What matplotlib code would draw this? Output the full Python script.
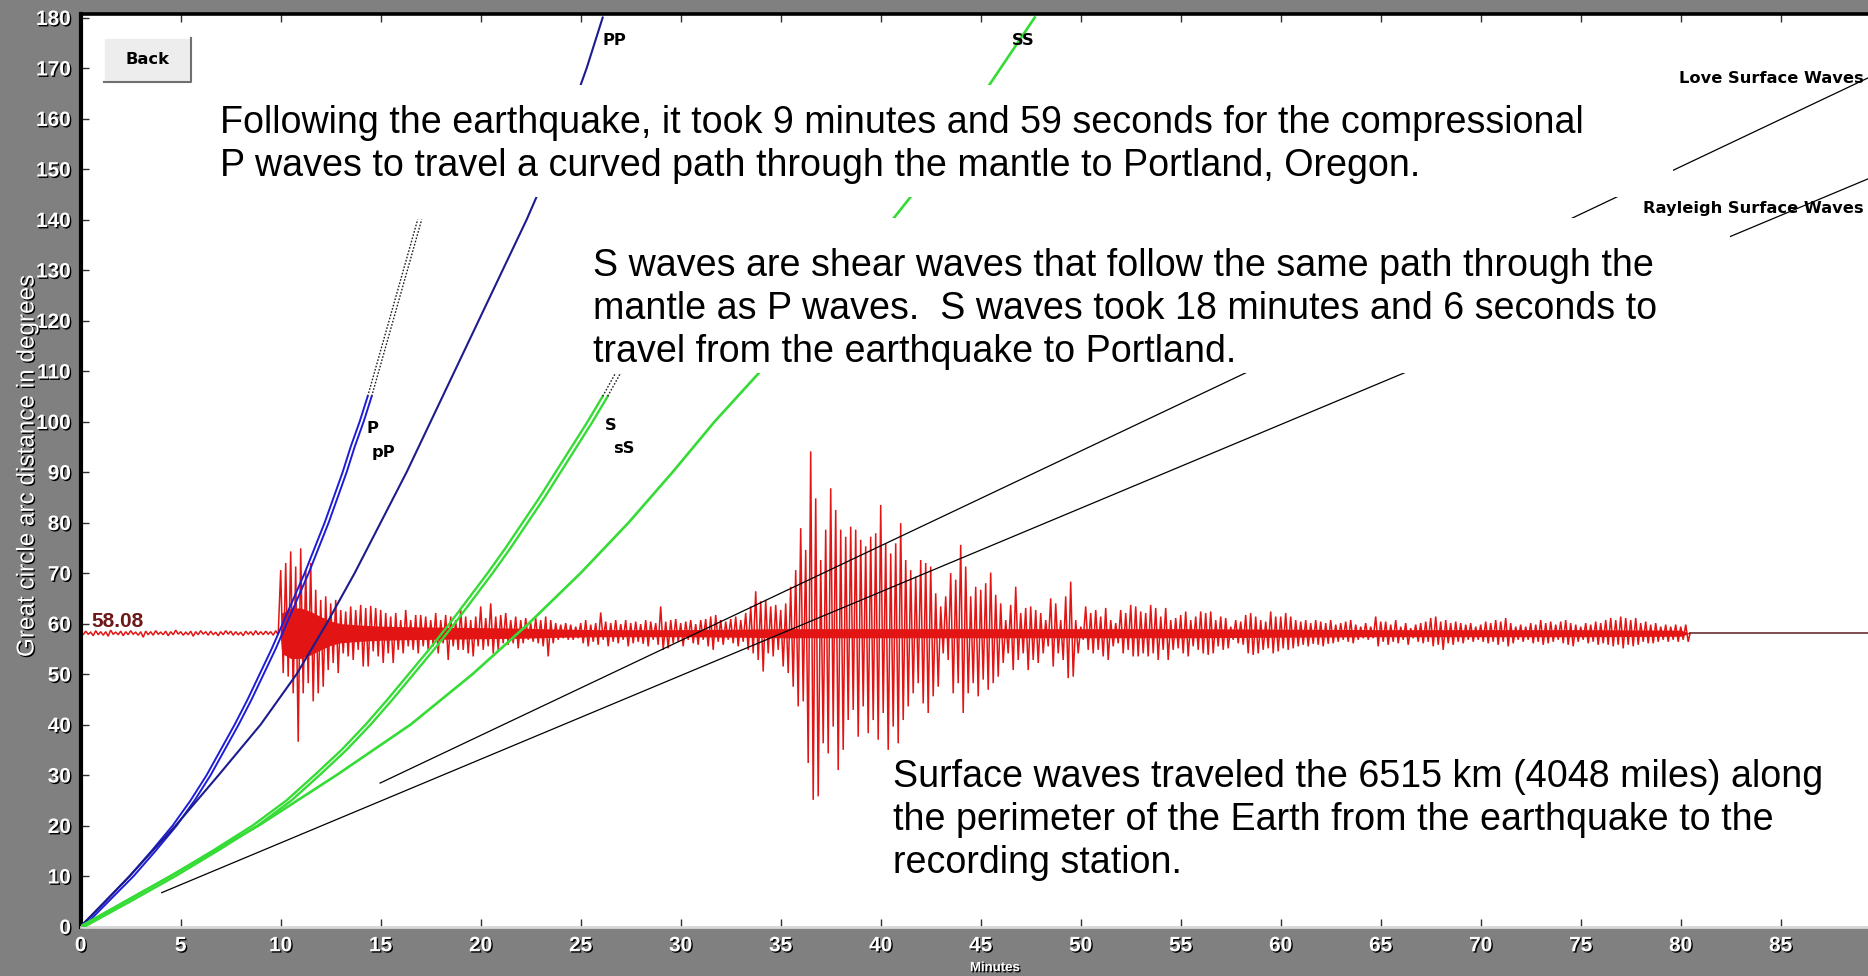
import numpy as np
import matplotlib
matplotlib.use("Agg")
import matplotlib.pyplot as plt
import matplotlib.patheffects as pe
from matplotlib.patches import Rectangle
from matplotlib.lines import Line2D

# ---------------- data ----------------
# travel-time curves: distance (deg) vs time (minutes)
p_deg = [0, 5, 10, 15, 20, 25, 30, 35, 40, 45, 50, 55, 60, 65, 70, 75, 80, 85, 90, 95, 100, 105]
p_min = [0, 1.25, 2.45, 3.55, 4.6, 5.5, 6.3, 7.0, 7.7, 8.35, 8.95, 9.55, 10.1, 10.65, 11.2, 11.7,
         12.2, 12.65, 13.1, 13.5, 13.95, 14.35]
pP_min = [0.15, 1.4, 2.65, 3.75, 4.8, 5.7, 6.5, 7.2, 7.9, 8.55, 9.15, 9.75, 10.3, 10.85, 11.4, 11.9,
          12.4, 12.85, 13.3, 13.7, 14.15, 14.55]
pdiff_deg = [105, 140]
pdiff_min = [14.35, 16.85]
pPdiff_min = [14.55, 17.05]

pp_deg = [0, 10, 20, 30, 40, 50, 60, 70, 80, 90, 100, 110, 120, 130, 140, 150, 160, 170, 180]
pp_min = [0, 2.45, 4.75, 6.9, 9.0, 10.8, 12.3, 13.7, 15.0, 16.3, 17.5, 18.7, 19.9, 21.1, 22.3,
          23.4, 24.4, 25.3, 26.1]

s_deg = [0, 5, 10, 15, 20, 25, 30, 35, 40, 45, 50, 55, 60, 65, 70, 75, 80, 85, 90, 95, 100, 105]
s_min = [0, 2.25, 4.5, 6.6, 8.6, 10.3, 11.7, 13.05, 14.25, 15.35, 16.4, 17.45, 18.45, 19.4, 20.35,
         21.25, 22.1, 22.95, 23.75, 24.55, 25.35, 26.1]
sS_min = [0.2, 2.5, 4.75, 6.85, 8.85, 10.55, 11.95, 13.3, 14.5, 15.6, 16.65, 17.7, 18.7, 19.65, 20.6,
          21.5, 22.35, 23.2, 24.0, 24.8, 25.6, 26.35]
sdiff_deg = [105, 110]
sdiff_min = [26.1, 26.8]
sSdiff_min = [26.35, 27.05]

ss_deg = [0, 10, 20, 30, 40, 50, 60, 70, 80, 90, 100, 110, 120, 130, 140, 150, 160, 170, 180]
ss_min = [0, 4.5, 8.9, 12.8, 16.5, 19.6, 22.4, 25.0, 27.4, 29.6, 31.7, 34.0, 36.2, 38.4, 40.6,
          42.6, 44.3, 46.0, 47.7]

love_min = [14.97, 89.4]
love_deg = [28.4, 168.1]
rayleigh_min = [4.05, 89.4]
rayleigh_deg = [6.7, 148.1]

# seismogram recorded at the station (distance 58.08 deg)
station_deg = 58.08
trace_step = 0.25          # minutes between successive upward peaks
trace_end = 80.47
# upward / downward peak excursions (deg) every 0.25 min, starting at 0 min
seis_up_pre = [0.3, 0.4, 0.2, 0.5, 0.3, 0.3, 0.6, 0.2, 0.4, 0.3, 0.5, 0.2, 0.3, 0.4, 0.3, 0.5, 0.2, 0.4,
               0.3, 0.6, 0.3, 0.2, 0.4, 0.3, 0.5, 0.3, 0.4, 0.2, 0.3, 0.5, 0.4, 0.3, 0.2, 0.4, 0.3, 0.5,
               0.3, 0.4, 0.3, 0.5]
seis_dn_pre = [0.3, 0.2, 0.5, 0.3, 0.4, 0.6, 0.2, 0.3, 0.5, 0.3, 0.2, 0.4, 0.8, 0.3, 0.4, 0.2, 0.3, 0.5,
               0.3, 0.2, 0.4, 0.3, 0.6, 0.3, 0.2, 0.4, 0.3, 0.5, 0.3, 0.2, 0.4, 0.3, 0.5, 0.2, 0.4, 0.3,
               0.3, 0.2, 0.4, 0.3]
seis_up_body = [12.5, 13.9, 16.2, 13.2, 16.8, 12.5, 13.9, 8.6, 6.6, 7.3, 5.9, 6.6,
                4.6, 4.3, 5.3, 4.6, 5.6, 5.0, 5.4, 5.0, 4.6, 4.0, 3.3, 4.0,
                2.6, 4.6, 2.6, 3.6, 3.6, 3.3, 2.6, 4.0, 2.6, 3.6, 3.3, 2.6,
                4.6, 3.3, 2.6, 3.3, 5.3, 3.0, 5.9, 3.3, 3.6, 4.0, 2.6, 3.3,
                2.6, 3.0, 2.0, 3.0, 2.6, 3.3, 2.6, 2.0, 1.7, 2.0, 1.7, 1.3]
seis_dn_body = [7.9, 8.6, 11.9, 21.5, 11.9, 9.9, 13.5, 11.9, 10.6, 7.3, 5.9, 7.9,
                4.0, 4.6, 5.3, 3.3, 6.6, 6.6, 3.6, 4.6, 5.9, 4.0, 5.9, 3.3,
                4.0, 2.6, 3.3, 4.0, 2.6, 3.3, 2.6, 4.0, 2.0, 5.3, 2.6, 3.3,
                3.3, 4.0, 4.6, 2.6, 3.3, 2.6, 4.0, 3.3, 2.0, 2.3, 2.0, 3.0,
                2.0, 1.3, 1.7, 2.0, 2.6, 4.6, 2.0, 1.3, 1.0, 1.3, 1.3, 1.0]
seis_up_surf = [2.0, 2.6, 1.7, 2.0, 4.1, 2.3, 2.0, 2.6, 1.8, 2.6, 2.0, 2.3,
                1.8, 2.6, 2.3, 2.0, 5.3, 2.3, 2.6, 2.8, 2.0, 2.3, 2.6, 1.8,
                2.6, 2.8, 3.3, 3.6, 2.6, 2.3, 2.8, 3.3, 2.6, 4.0, 5.3, 8.3,
                6.3, 6.6, 5.3, 5.6, 4.6, 5.9, 9.2, 12.5, 20.8, 16.5, 36.0, 26.7,
                14.5, 20.5, 28.7, 24.4, 20.5, 19.1, 21.1, 20.5, 18.5, 17.2, 19.1, 19.8,
                25.4, 17.8, 15.8, 17.8, 21.8, 14.5, 12.5, 11.2, 14.5, 13.9, 13.2, 7.9,
                5.3, 7.3, 11.9, 10.6, 17.5, 13.2, 7.3, 9.2, 8.6, 9.9]
seis_dn_surf = [2.0, 2.6, 1.7, 2.3, 1.3, 2.6, 1.7, 2.0, 1.3, 2.6, 2.0, 1.7,
                2.1, 2.6, 1.3, 2.3, 3.3, 3.0, 2.0, 1.7, 2.6, 1.3, 2.0, 2.3,
                1.3, 2.6, 3.3, 1.7, 2.3, 1.3, 2.0, 2.6, 1.7, 3.3, 4.0, 5.3,
                7.6, 4.0, 4.6, 3.3, 6.6, 7.9, 10.6, 14.5, 13.5, 25.7, 33.0, 32.3,
                21.8, 23.8, 18.5, 27.1, 23.1, 17.2, 15.2, 20.5, 14.5, 19.8, 17.2, 21.1,
                15.8, 23.1, 18.5, 21.8, 17.2, 14.5, 11.9, 9.9, 13.9, 15.8, 12.5, 10.6,
                4.0, 5.3, 11.9, 9.9, 15.8, 11.9, 9.9, 12.5, 9.2, 11.2]
seis_up_coda = [12.0, 7.6, 5.9, 2.6, 5.6, 9.2, 4.0, 5.0, 5.3, 4.6,
                4.0, 2.6, 6.9, 5.9, 2.6, 7.3, 10.2, 2.6, 1.3, 5.3, 4.0, 4.6,
                3.3, 5.0, 2.6, 2.0, 4.6, 4.0, 5.6, 5.3, 4.3, 4.0, 5.6, 5.0,
                3.3, 5.0, 2.6, 3.0, 3.6, 4.3, 2.6, 3.3, 4.3, 4.0, 4.3, 2.6,
                3.3, 3.0, 1.3, 2.6, 2.3, 3.6, 4.0, 3.3, 2.6, 2.3, 4.3, 3.3,
                3.3, 4.0, 3.3, 2.6, 2.3, 2.6, 2.0, 2.6, 2.3, 2.0, 2.6, 1.7,
                2.0, 2.3, 2.6, 1.7, 1.3, 2.0, 1.3, 3.3, 2.3]
seis_dn_coda = [9.9, 8.6, 5.9, 4.0, 7.3, 5.3, 4.0, 7.3, 5.3, 5.9,
                4.0, 2.6, 6.6, 4.0, 5.3, 8.9, 8.6, 4.0, 1.3, 3.3, 4.0, 3.3,
                4.6, 5.3, 2.6, 2.0, 4.0, 3.3, 4.6, 4.6, 4.0, 4.6, 4.0, 5.3,
                3.3, 5.3, 3.3, 3.0, 4.0, 4.6, 2.6, 3.3, 4.0, 4.3, 4.0, 2.6,
                3.3, 3.0, 1.3, 2.0, 2.3, 4.0, 4.3, 4.0, 3.3, 3.0, 4.0, 3.6,
                3.0, 3.3, 3.0, 2.6, 2.3, 2.6, 2.1, 2.3, 2.6, 2.1, 2.0, 1.7,
                1.3, 1.7, 2.0, 1.3, 1.0, 1.3, 1.0, 2.6, 1.7]
seis_up_tail = [2.3, 1.7, 2.6, 1.3, 2.0, 1.0, 1.7, 2.0, 2.3, 3.0, 3.3,
                2.3, 2.6, 2.0, 2.3, 2.0, 1.7, 2.0, 1.3, 1.7, 2.3, 2.0, 2.6,
                2.3, 3.0, 2.0, 1.3, 1.7, 1.3, 2.0, 1.7, 2.6, 2.0, 2.3, 1.7,
                2.3, 2.6, 2.0, 1.7, 1.3, 2.0, 1.7, 2.3, 2.0, 2.6, 3.0, 2.6,
                3.3, 3.0, 2.6, 3.0, 2.0, 2.3, 1.7, 2.0, 1.3, 1.7, 1.3, 1.7,
                1.3, 1.7]
seis_dn_tail = [2.3, 1.7, 2.0, 1.3, 2.3, 1.0, 1.7, 2.0, 1.7, 2.6, 2.3,
                3.3, 2.0, 2.3, 1.7, 2.0, 1.3, 1.7, 1.3, 1.7, 2.0, 1.7, 2.3,
                1.7, 2.6, 2.0, 1.3, 1.7, 1.3, 2.0, 1.7, 2.3, 2.0, 1.7, 1.3,
                2.0, 2.3, 2.6, 1.7, 1.3, 2.0, 1.7, 2.3, 2.0, 2.3, 2.6, 2.3,
                3.0, 2.3, 2.6, 2.3, 1.7, 2.0, 2.0, 1.7, 1.3, 1.7, 1.3, 1.7,
                1.3, 1.7]
# half-width (deg) of the solid red core of the trace
seis_core_min = [9.97, 10.05, 10.5, 11.0, 11.5, 12.0, 12.5, 13.0, 14.0, 15.0, 16.0, 18.0, 20.0, 22.0,
                 24.0, 26.0, 30.0, 33.0, 35.0, 40.0, 45.0, 50.0, 55.0, 60.0, 65.0, 70.0, 75.0, 80.0,
                 80.47]
seis_core_half = [0.0, 4.0, 5.0, 5.0, 4.3, 3.3, 2.4, 1.9, 1.6, 1.4, 1.3, 1.2, 1.1, 1.0,
                  0.8, 0.7, 0.7, 0.8, 0.9, 0.9, 0.9, 0.9, 0.9, 0.8, 0.7, 0.7, 0.7, 0.6,
                  0.0]

x_ticks = list(range(0, 90, 5))
y_ticks = list(range(0, 181, 10))

text_p = ["Following the earthquake, it took 9 minutes and 59 seconds for the compressional",
          "P waves to travel a curved path through the mantle to Portland, Oregon."]
text_s = ["S waves are shear waves that follow the same path through the",
          "mantle as P waves.  S waves took 18 minutes and 6 seconds to",
          "travel from the earthquake to Portland."]
text_surf = ["Surface waves traveled the 6515 km (4048 miles) along",
             "the perimeter of the Earth from the earthquake to the",
             "recording station."]

# ---------------- figure / layout ----------------
W, H, DPI = 1868, 976, 100
fig = plt.figure(figsize=(W / DPI, H / DPI), dpi=DPI, facecolor='#808080')


def fx(px):
    return px / W


def fy(py):
    return 1 - py / H


X0, Y0, YT = 80.7, 926.5, 14.0
PX_PER_MIN, PX_PER_DEG = 20.0, 5.05
ax = fig.add_axes([fx(X0), fy(Y0), 1 - fx(X0), (Y0 - YT) / H])
xmax = (W - X0) / PX_PER_MIN
ax.set_xlim(0, xmax)
ax.set_ylim(0, (Y0 - YT) / PX_PER_DEG)
ax.set_facecolor('white')

shadow = [pe.withSimplePatchShadow(offset=(1.0, -1.0), shadow_rgbFace='black', alpha=1.0)]
tick_font = dict(family=['Liberation Sans', 'DejaVu Sans'], fontweight='bold', fontsize=15,
                 color='white', path_effects=shadow)

ax.set_xticks(x_ticks)
ax.set_xticklabels([str(v) for v in x_ticks], **tick_font)
ax.set_yticks(y_ticks)
ax.set_yticklabels([str(v) for v in y_ticks], **tick_font)
ax.tick_params(axis='x', direction='in', length=6, width=1.0, color='#303030', top=True,
               bottom=True, pad=7)
ax.tick_params(axis='y', direction='in', length=6, width=1.0, color='#303030', right=False,
               pad=7)

ax.spines['left'].set_color('black')
ax.spines['left'].set_linewidth(3.0)
ax.spines['top'].set_color('black')
ax.spines['top'].set_linewidth(2.6)
ax.spines['bottom'].set_color('#d6d6d6')
ax.spines['bottom'].set_linewidth(2.0)
ax.spines['right'].set_visible(False)

# ---------------- seismogram ----------------
red = '#e21414'
up = np.array(seis_up_pre + seis_up_body + seis_up_surf + seis_up_coda + seis_up_tail)
dn = np.array(seis_dn_pre + seis_dn_body + seis_dn_surf + seis_dn_coda + seis_dn_tail)
n = min(len(up), len(dn))
t = trace_step * np.arange(n)
xs = np.empty(2 * n)
ys = np.empty(2 * n)
xs[0::2] = t
xs[1::2] = t + trace_step / 2
ys[0::2] = station_deg + up[:n]
ys[1::2] = station_deg - dn[:n]
xs = np.concatenate([[0.0], xs, [trace_end]])
ys = np.concatenate([[station_deg], ys, [station_deg]])
core = np.array(seis_core_half)
ax.fill_between(seis_core_min, station_deg - core, station_deg + core, color=red, lw=0, zorder=2)
ax.plot(xs, ys, color=red, lw=1.1, zorder=2, solid_joinstyle='miter')
ax.plot([trace_end, xmax], [station_deg, station_deg], color='#5a1c1c', lw=1.1, zorder=2)

# ---------------- travel-time curves ----------------
blue, navy, green = '#1d1dd6', '#1c1c8e', '#35dc35'
ax.plot(p_min, p_deg, color=blue, lw=1.4, zorder=3)
ax.plot(pP_min, p_deg, color=blue, lw=1.4, zorder=3)
ax.plot(pdiff_min, pdiff_deg, color='#222222', lw=1.0, ls=(0, (1.2, 1.2)), zorder=3)
ax.plot(pPdiff_min, pdiff_deg, color='#222222', lw=1.0, ls=(0, (1.2, 1.2)), zorder=3)
ax.plot(pp_min, pp_deg, color=navy, lw=1.5, zorder=3)

ax.plot(s_min, s_deg, color=green, lw=1.7, zorder=3)
ax.plot(sS_min, s_deg, color=green, lw=1.7, zorder=3)
ax.plot(sdiff_min, sdiff_deg, color='#222222', lw=1.0, ls=(0, (1.2, 1.2)), zorder=3)
ax.plot(sSdiff_min, sdiff_deg, color='#222222', lw=1.0, ls=(0, (1.2, 1.2)), zorder=3)
ax.plot(ss_min, ss_deg, color=green, lw=1.9, zorder=3)

ax.plot(love_min, love_deg, color='black', lw=0.9, zorder=3)
ax.plot(rayleigh_min, rayleigh_deg, color='black', lw=0.9, zorder=3)

lab_font = dict(family='DejaVu Sans', fontweight='bold', fontsize=11.7, color='black', zorder=4)
ax.text(14.3, 98.7, 'P', ha='left', va='center', **lab_font)
ax.text(14.55, 93.8, 'pP', ha='left', va='center', **lab_font)
ax.text(26.2, 99.3, 'S', ha='left', va='center', **lab_font)
ax.text(26.6, 94.7, 'sS', ha='left', va='center', **lab_font)
ax.text(26.07, 175.5, 'PP', ha='left', va='center', **lab_font)
ax.text(46.57, 175.5, 'SS', ha='left', va='center', **lab_font)
ax.text(xmax - 0.2, 167.9, 'Love Surface Waves', ha='right', va='center', **lab_font)
ax.text(xmax - 0.2, 142.2, 'Rayleigh Surface Waves', ha='right', va='center', **lab_font)

ax.text(0.55, 60.4, '58.08', ha='left', va='center', color='#6e1818', fontsize=15,
        fontweight='bold', family=['Liberation Sans', 'DejaVu Sans'], zorder=4)

# ---------------- white panels behind the explanations ----------------
for (l, tp, r, b) in [(210, 85, 1673, 197), (585, 218, 1730, 373)]:
    fig.add_artist(Rectangle((fx(l), fy(b)), (r - l) / W, (b - tp) / H, transform=fig.transFigure,
                             facecolor='white', edgecolor='none', zorder=1))

big = dict(family=['Liberation Sans', 'DejaVu Sans'], fontsize=27.1, color='black', ha='left',
           va='baseline', zorder=5)
for i, line in enumerate(text_p):
    fig.text(fx(220), fy(133 + 43 * i), line, **big)
for i, line in enumerate(text_s):
    fig.text(fx(593), fy(276 + 43 * i), line, **big)
for i, line in enumerate(text_surf):
    fig.text(fx(893), fy(787 + 43 * i), line, **big)

# ---------------- Back button ----------------
bx0, by0, bx1, by1 = 104, 38, 191, 82
fig.add_artist(Rectangle((fx(bx0), fy(by1)), (bx1 - bx0) / W, (by1 - by0) / H,
                         transform=fig.transFigure, facecolor='#ededed', edgecolor='none', zorder=6))
fig.add_artist(Line2D([fx(bx0), fx(bx0), fx(bx1)], [fy(by1), fy(by0), fy(by0)],
                      transform=fig.transFigure, color='white', lw=1.2, zorder=7))
fig.add_artist(Line2D([fx(bx0), fx(bx1), fx(bx1)], [fy(by1), fy(by1), fy(by0)],
                      transform=fig.transFigure, color='#707070', lw=1.5, zorder=7))
fig.text(fx((bx0 + bx1) / 2), fy((by0 + by1) / 2), 'Back', ha='center', va='center',
         family='DejaVu Sans', fontweight='bold', fontsize=11.7, color='black', zorder=8)

# ---------------- axis titles ----------------
fig.text(fx(27.5), fy(466.5), 'Great circle arc distance in degrees', rotation=90, ha='center',
         va='center', color='white', fontsize=17.5, family=['Liberation Sans', 'DejaVu Sans'],
         path_effects=shadow)
fig.text(fx(995), fy(968), 'Minutes', ha='center', va='center', color='white', fontsize=9.5,
         fontweight='bold', family=['Liberation Sans', 'DejaVu Sans'], path_effects=shadow)

fig.savefig('out.png', dpi=DPI, facecolor=fig.get_facecolor())
